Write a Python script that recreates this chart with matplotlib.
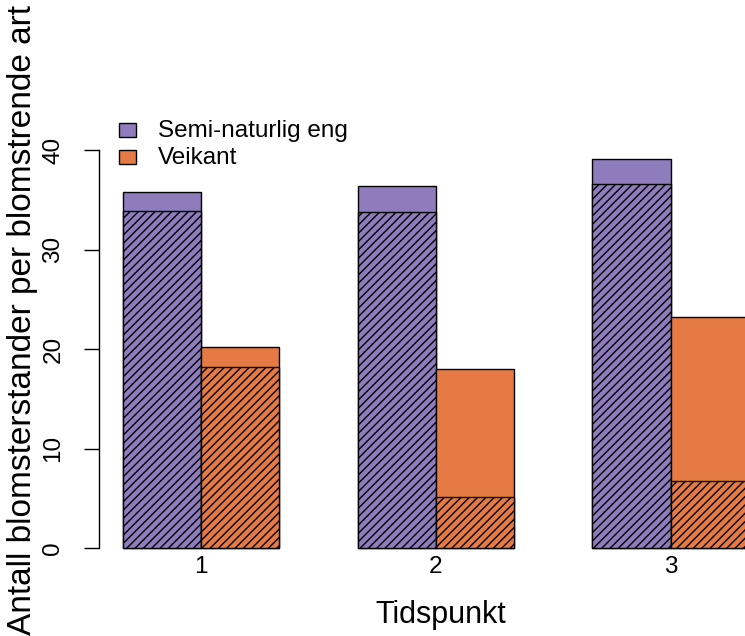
import matplotlib

matplotlib.use("Agg")

import matplotlib.pyplot as plt
from matplotlib.patches import Rectangle

plt.rcParams["font.family"] = ["Liberation Sans", "DejaVu Sans"]
plt.rcParams["hatch.linewidth"] = 1.0

# Data
tidspunkt = ["1", "2", "3"]
eng_total = [35.75, 36.4, 39.1]
eng_hatch = [33.87, 33.8, 36.6]
veikant_total = [20.17, 18.0, 23.2]
veikant_hatch = [18.2, 5.1, 6.7]

PURPLE = "#8e7cbd"
ORANGE = "#e57a44"

W, H = 745, 636
fig = plt.figure(figsize=(W / 100, H / 100), dpi=100)

# axes: left spine at px 99, y=0 at px 548, y=40 at px 150
ax = fig.add_axes([99 / W, 1 - 548 / H, (W - 99) / W, 398 / H])
ax.set_ylim(0, 40)
ax.set_xlim(0.697, 8.948)

x_eng = [1.5 + 3 * i for i in range(3)]
x_vei = [2.5 + 3 * i for i in range(3)]
x_mid = [2 + 3 * i for i in range(3)]

for xs, tot, hat, col in [(x_eng, eng_total, eng_hatch, PURPLE),
                          (x_vei, veikant_total, veikant_hatch, ORANGE)]:
    ax.bar(xs, tot, width=1, color=col, edgecolor="black", linewidth=1.0,
           clip_on=False)
    ax.bar(xs, hat, width=1, color=col, edgecolor="black", linewidth=1.0,
           hatch="////", clip_on=False)

for side in ["top", "right", "bottom"]:
    ax.spines[side].set_visible(False)
ax.spines["left"].set_bounds(0, 40)
ax.spines["left"].set_linewidth(1.0)

ax.set_yticks([0, 10, 20, 30, 40])
ax.tick_params(axis="y", direction="out", length=11, width=1.0, pad=14,
               labelsize=17.5)
for lab in ax.get_yticklabels():
    lab.set_rotation(90)
    lab.set_va("center")
    lab.set_ha("right")

ax.set_xticks(x_mid)
ax.set_xticklabels(tidspunkt)
ax.tick_params(axis="x", length=0, pad=6, labelsize=17.5)

fig.text(441 / W, 1 - 623 / H, "Tidspunkt", ha="center", va="baseline",
         fontsize=22)
fig.text(23 / W, 1 - 320 / H, "Antall blomsterstander per blomstrende art",
         ha="center", va="center", rotation=90, fontsize=24)

# legend
labels = ["Semi-naturlig eng", "Veikant"]
for k, (lab, col) in enumerate(zip(labels, [PURPLE, ORANGE])):
    cy = 129.5 + 27 * k
    fig.add_artist(Rectangle((119 / W, 1 - (cy + 7) / H), 17 / W, 14 / H,
                             transform=fig.transFigure, facecolor=col,
                             edgecolor="black", linewidth=1.0))
    fig.text(158 / W, 1 - (cy + 7) / H, lab, ha="left", va="baseline",
             fontsize=17.5)

fig.savefig("out.png", dpi=100)
